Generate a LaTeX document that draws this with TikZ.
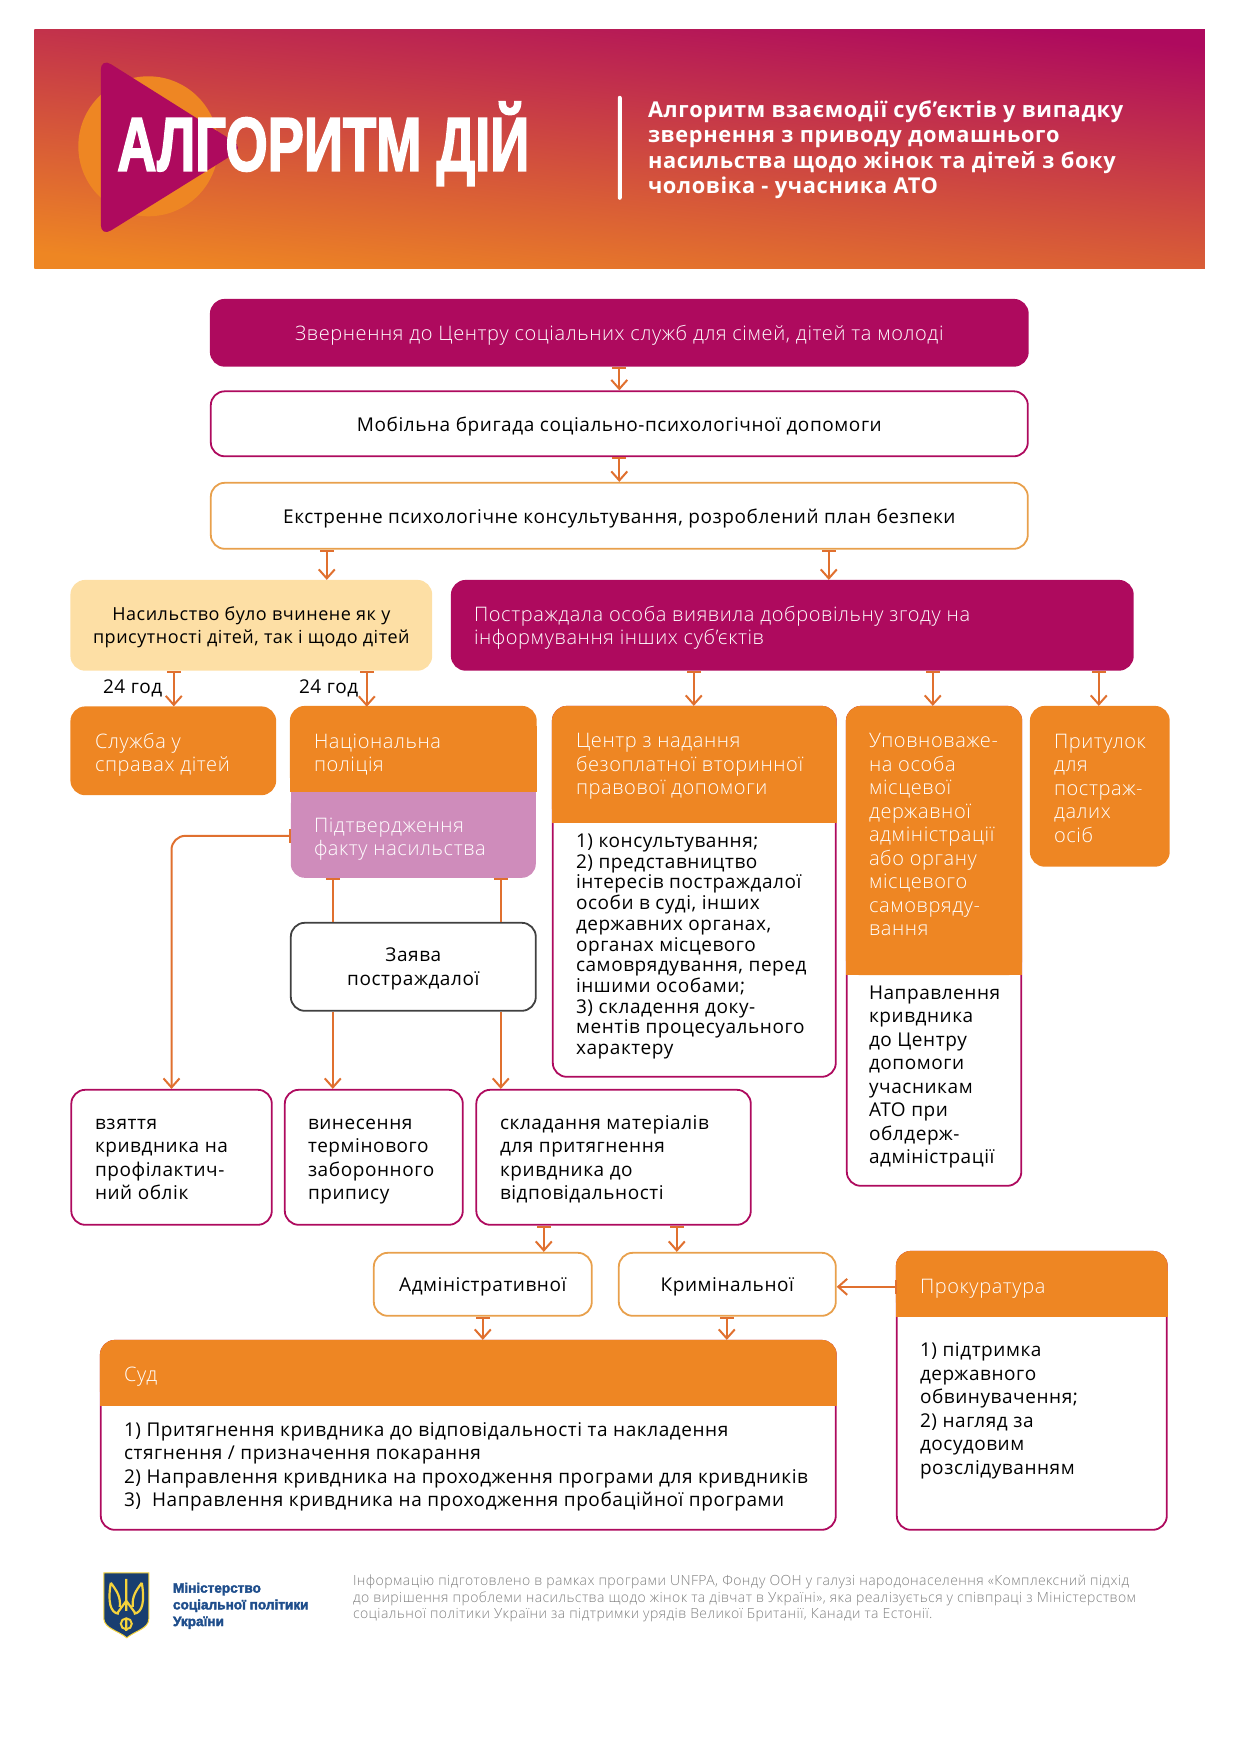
\documentclass[tikz,border=0pt]{standalone}
\usepackage{fontspec}
\setmainfont[LetterSpace=3]{Open Sans}
\newfontfamily\lighttxt[LetterSpace=3]{Open Sans Light}
\newfontfamily\titlefont[BoldFeatures={FakeBold=2.5}]{Liberation Sans}
\usetikzlibrary{arrows.meta}
\definecolor{plum}{HTML}{AE0A5E}
\definecolor{amber}{HTML}{EE8623}
\definecolor{cream}{HTML}{FDDFA5}
\definecolor{mauve}{HTML}{CF8CBB}
\definecolor{flowc}{HTML}{E0702F}
\definecolor{softamber}{HTML}{E8A04C}
\definecolor{coral}{HTML}{D2564F}
\definecolor{navy}{HTML}{1F4E8C}
\definecolor{gold}{HTML}{F5D33C}
\tikzset{
  txt/.style={font=\fontsize{19}{23.5}\selectfont, inner sep=0pt, align=left, text depth=0pt},
  lst/.style={font=\fontsize{19}{20.7}\selectfont, inner sep=0pt, align=left, text depth=0pt},
  wtxt/.style={txt, font=\lighttxt\fontsize{20}{23.5}\selectfont, text=white},
  pane/.style={txt, rounded corners=14, line width=1.8pt, align=center},
  flow/.style={draw=flowc, line width=2pt, -{Straight Barb[length=9pt,width=16pt]}},
  tailflow/.style={flow, {Bar[width=14pt,length=1.5pt]}-{Straight Barb[length=9pt,width=16pt]}},
  link/.style={draw=flowc, line width=2pt, {Bar[width=14pt,length=1.5pt]}-}
}
\newcommand{\cardtop}[4]{\filldraw[amber, line width=1.8pt, rounded corners=14] (#1,#2) rectangle (#3,#4);
  \filldraw[amber, line width=1.8pt] (#1,#2+20) rectangle (#3,#4);}
\begin{document}
\begin{tikzpicture}[x=1pt, y=-1pt]
\useasboundingbox (0,0) rectangle (1240,1755);
\begin{scope}[shift={(0.8,0.8)}]
\shade[bottom color=amber, middle color=coral, top color=plum, shading angle=-6] (33.5,29) rectangle (1204,267.5);
\fill[amber] (147.5,145.5) circle [radius=70];
\fill[plum, rounded corners=12] (100,57) -- (243,147) -- (100,236) -- cycle;
\node[inner sep=0pt, text=white, xscale=0.715, transform shape, font=\titlefont\bfseries\fontsize{76}{76}\selectfont] (title) at (322.5,143) {АЛГОРИТМ ДІЙ};
\fill[white, rounded corners=2] (617,95) rectangle (621,199);
\node[anchor=west, inner sep=0pt, text=white, align=left, font=\bfseries\fontsize{21.8}{25.6}\selectfont] (headline) at (647,149) {Алгоритм взаємодії суб’єктів у випадку\\звернення з приводу домашнього\\насильства щодо жінок та дітей з боку\\чоловіка - учасника АТО};

\node[pane, wtxt, align=center, fill=plum, draw=plum, minimum width=817, minimum height=66] (appeal) at (618.5,332) {Звернення до Центру соціальних служб для сімей, дітей та молоді};
\node[pane, draw=plum, minimum width=817, minimum height=65] (brigade) at (618.5,423) {Мобільна бригада соціально-психологічної допомоги};
\node[pane, draw=softamber, minimum width=817, minimum height=66] (crisis) at (618.5,515) {Екстренне психологічне консультування, розроблений план безпеки};
\node[pane, fill=cream, draw=cream, font=\fontsize{18}{23.5}\selectfont, minimum width=360, minimum height=89] (violence) at (250.5,624.5) {Насильство було вчинене як у\\присутності дітей, так і щодо дітей};
\node[pane, fill=plum, draw=plum, minimum width=681, minimum height=89] (consent) at (791.5,624.5) {};
\node[wtxt, anchor=west] (consenttext) at (473,624.5) {Постраждала особа виявила добровільну згоду на\\інформування інших суб’єктів};
\node[txt, anchor=west] (h1) at (102,686) {24 год};
\node[txt, anchor=west] (h2) at (298,686) {24 год};
\node[pane, fill=amber, draw=amber, minimum width=204, minimum height=87] (service) at (172.5,750) {};
\node[wtxt, anchor=west] (servicetext) at (94,751.5) {Служба у\\справах дітей};

\fill[mauve, rounded corners=14] (290,790) rectangle (535,877);
\fill[mauve] (290,790) rectangle (535,830);
\cardtop{290}{706}{535}{790}
\node[wtxt, anchor=west] (police) at (313,752) {Національна\\поліція};
\node[wtxt, anchor=west] (proof) at (313,836) {Підтвердження\\факту насильства};
\coordinate (proofbox) at (412.5,877);
\node[pane, draw=black!75, minimum width=245, minimum height=88] (claim) at (412.5,966) {Заява\\постраждалої};

\node[pane, draw=plum, minimum width=283, minimum height=370] (legal) at (693.5,891) {};
\cardtop{552}{706}{835}{821}
\node[wtxt, anchor=west] (legalhead) at (575,763.5) {Центр з надання\\безоплатної вторинної\\правової допомоги};
\node[lst, anchor=west] (legaltext) at (575,943.5) {1) консультування;\\2) представництво\\інтересів постраждалої\\особи в суді, інших\\державних органах,\\органах місцевого\\самоврядування, перед\\іншими особами;\\3) складення доку-\\ментів процесуального\\характеру};

\node[pane, draw=plum, minimum width=174.5, minimum height=479] (deputy) at (933.25,945.5) {};
\cardtop{846}{706}{1020.5}{973.5}
\node[wtxt, anchor=west] (deputyhead) at (868,834) {Уповноваже-\\на особа\\місцевої\\державної\\адміністрації\\або органу\\місцевого\\самовряду-\\вання};
\node[txt, anchor=west] (deputytext) at (868,1074) {Направлення\\кривдника\\до Центру\\допомоги\\учасникам\\АТО при\\облдерж-\\адміністрації};
\node[pane, fill=amber, draw=amber, minimum width=138, minimum height=159] (shelter) at (1099,785.5) {};
\node[wtxt, anchor=west] (sheltertext) at (1053,787.5) {Притулок\\для\\постраж-\\далих\\осіб};

\node[pane, draw=plum, minimum width=200.5, minimum height=135] (record) at (170.75,1156.5) {};
\node[txt, anchor=west] (recordtext) at (94,1158.5) {взяття\\кривдника на\\профілактич-\\ний облік};
\node[pane, draw=plum, minimum width=178, minimum height=135] (order) at (373,1156.5) {};
\node[txt, anchor=west] (ordertext) at (307,1158.5) {винесення\\термінового\\заборонного\\припису};
\node[pane, draw=plum, minimum width=274.5, minimum height=135] (files) at (612.75,1156.5) {};
\node[txt, anchor=west] (filestext) at (499,1156.5) {складання матеріалів\\для притягнення\\кривдника до\\відповідальності};
\node[pane, draw=softamber, minimum width=218, minimum height=63] (admin) at (482,1283.5) {Адміністративної};
\node[pane, draw=softamber, minimum width=217, minimum height=63] (crime) at (726.5,1283.5) {Кримінальної};

\node[pane, draw=plum, minimum width=735, minimum height=189] (court) at (467.5,1434.5) {};
\cardtop{100}{1340}{835}{1404}
\node[wtxt, anchor=west] (courthead) at (123,1373) {Суд};
\node[txt, anchor=west] (courttext) at (123,1463.5) {1) Притягнення кривдника до відповідальності та накладення\\стягнення / призначення покарання\\2) Направлення кривдника на проходження програми для кривдників\\3)\ \ Направлення кривдника на проходження пробаційної програми};
\node[pane, draw=plum, minimum width=270, minimum height=278] (prosecutor) at (1031,1390) {};
\cardtop{896}{1251}{1166}{1315}
\node[wtxt, anchor=west] (prosecutorhead) at (919,1286) {Прокуратура};
\node[txt, anchor=west] (prosecutortext) at (919,1407.5) {1) підтримка\\державного\\обвинувачення;\\2) нагляд за\\досудовим\\розслідуванням};

\foreach \from/\to/\xpos in {appeal/brigade/618.5, brigade/crisis/618.5, crisis/violence/326, crisis/consent/828, violence/service/173, consent/legal/693, consent/deputy/932, consent/shelter/1098, files/admin/543, files/crime/676, admin/court/482, crime/court/726}
  \draw[tailflow] (\from.south -| \xpos,0) -- (\to.north -| \xpos,0);
\draw[tailflow] (violence.south -| 366,0) -- (366,706);
\foreach \xpos in {332,500}
  \draw[link] (proofbox -| \xpos,0) -- (claim.north -| \xpos,0);
\draw[flow] (claim.south -| 332,0) -- (order.north -| 332,0);
\draw[flow] (claim.south -| 500,0) -- (files.north -| 500,0);
\draw[tailflow, rounded corners=14] (290,835) -- (170.7,835) -- (record.north -| 170.7,0);
\draw[tailflow] (896,0 |- prosecutorhead) -- (crime.east |- prosecutorhead);

\filldraw[fill=navy!80!black, draw=gold, line width=1pt] (103,1572) -- (148,1572) -- (148,1618) .. controls (148,1628) and (134,1630) .. (126,1637) .. controls (118,1630) and (104,1628) .. (103,1618) -- cycle;
\draw[gold, line width=2.2pt] (125.5,1578) -- (125.5,1610) (125.5,1618) -- (125.5,1630)
  (110,1582) .. controls (107,1600) and (109,1612) .. (118,1613) (141,1582) .. controls (144,1600) and (142,1612) .. (133,1613)
  (110,1582) .. controls (116,1590) and (120,1596) .. (119,1606) (141,1582) .. controls (135,1590) and (131,1596) .. (132,1606)
  (116,1613) -- (125.5,1600) -- (135,1613);
\draw[gold, line width=2pt] (125.5,1623) circle [radius=5.5];
\node[anchor=west, inner sep=0pt, align=left, text=navy, font=\titlefont\bfseries\fontsize{13.6}{16.7}\selectfont] (ministry) at (172,1605) {Міністерство\\соціальної політики\\України};
\node[anchor=west, inner sep=0pt, align=left, text=black!50, font=\lighttxt\fontsize{14}{16.5}\selectfont] (source) at (352,1598) {Інформацію підготовлено в рамках програми UNFPA, Фонду ООН у галузі народонаселення «Комплексний підхід\\до вирішення проблеми насильства щодо жінок та дівчат в Україні», яка реалізується у співпраці з Міністерством\\соціальної політики України за підтримки урядів Великої Британії, Канади та Естонії.};
\end{scope}
\end{tikzpicture}
\end{document}
